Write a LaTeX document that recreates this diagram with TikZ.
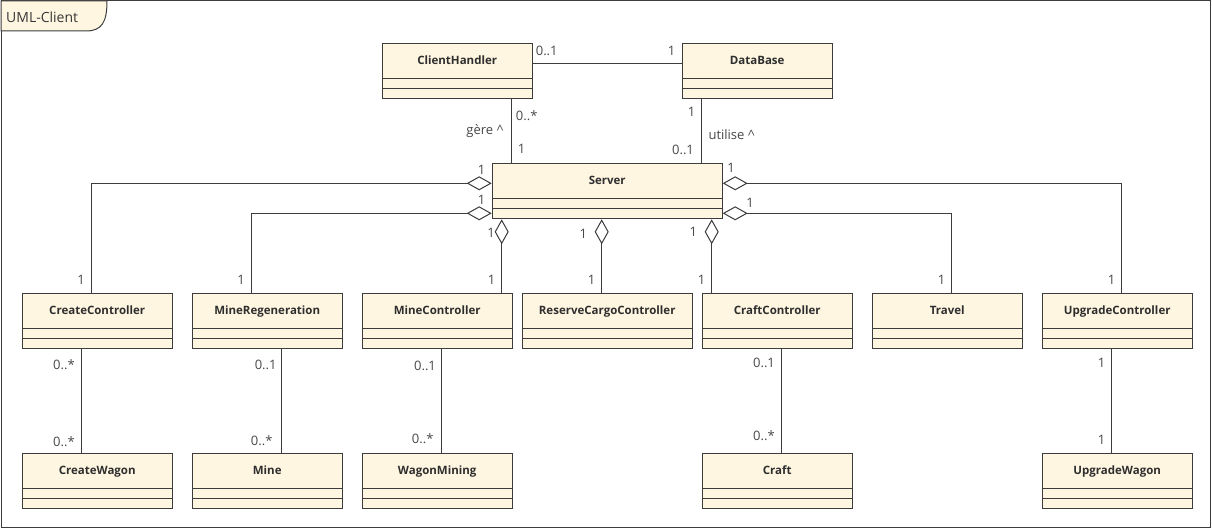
\documentclass[tikz,border=0pt]{standalone}
\usepackage{fontspec}
\setmainfont{Open Sans}
\usetikzlibrary{calc,arrows.meta}
\definecolor{umlfill}{RGB}{254,246,225}
\definecolor{umlline}{RGB}{60,60,60}
\tikzset{
	classbox/.style={draw=umlline, fill=umlfill, line width=1pt, anchor=north west, minimum height=55pt, inner sep=0pt},
	classname/.style={font=\fontsize{11.5}{13}\selectfont\bfseries, text=black!82, inner sep=0pt, anchor=base},
	mult/.style={font=\fontsize{13}{15}\selectfont, text=black!72, inner sep=0pt},
	assoc/.style={draw=umlline, line width=1pt},
	agg/.style={assoc, {Diamond[open, length=25pt, width=14pt, fill=white]}-},
}
\def\umlclass(#1)(#2,#3)(#4)#5{%
	\node[classbox, minimum width=#4pt] (#1) at (#2,#3) {};
	\node[classname] (#1-name) at ($(#1.north)+(0,21.5)$) {#5};
	\draw[umlline, line width=1pt] ($(#1.north west)+(0,35)$) -- ($(#1.north east)+(0,35)$);
	\draw[umlline, line width=1pt] ($(#1.north west)+(0,45)$) -- ($(#1.north east)+(0,45)$);
}
\begin{document}
\begin{tikzpicture}[x=1pt, y=-1pt]
			%%%%% FRAME %%%%%
			\useasboundingbox (0,0) rectangle (1212,529);
			\draw[umlline, line width=1pt] (1,1) rectangle (1210,527);
			\draw[umlline, line width=1pt, fill=umlfill] (1,1) -- (107,1) .. controls (107,22) and (102,31) .. (86,31) -- (1,31) -- cycle;
			\node[font=\fontsize{14}{16}\selectfont, text=black!78, anchor=west, inner sep=0pt] (title) at (6,17) {UML-Client};
			
			%%%%% CLASSES %%%%%
			\umlclass(ch)(381.7,43.3)(150){ClientHandler}
			\umlclass(db)(681.7,43.3)(150){DataBase}
			\umlclass(srv)(491.7,163.3)(230){Server}
			
			\umlclass(cc)(21.7,293.3)(150){CreateController}
			\umlclass(mr)(191.7,293.3)(150){MineRegeneration}
			\umlclass(mc)(361.7,293.3)(150){MineController}
			\umlclass(rcc)(521.7,293.3)(170){ReserveCargoController}
			\umlclass(crc)(701.7,293.3)(150){CraftController}
			\umlclass(tr)(871.7,293.3)(150){Travel}
			\umlclass(uc)(1041.7,293.3)(150){UpgradeController}
			
			\umlclass(cw)(21.7,453.3)(150){CreateWagon}
			\umlclass(mine)(191.7,453.3)(150){Mine}
			\umlclass(wm)(361.7,453.3)(150){WagonMining}
			\umlclass(craft)(701.7,453.3)(150){Craft}
			\umlclass(uw)(1041.7,453.3)(150){UpgradeWagon}
			
			%%%%% ASSOCIATIONS %%%%%
			\draw[assoc] ($(ch.north east)+(0,20)$) -- ($(db.north west)+(0,20)$);
			\draw[assoc] ($(ch.south west)+(130,0)$) coordinate (p1) -- (p1 |- srv.north);
			\draw[assoc] ($(db.south west)+(20,0)$) coordinate (p2) -- (p2 |- srv.north);
			
			\draw[agg] ($(srv.north west)+(0,20)$) -| ($(cc.north west)+(70,0)$);
			\draw[agg] ($(srv.north west)+(0,50)$) -| ($(mr.north west)+(60,0)$);
			\draw[agg] ($(srv.south west)+(10,0)$) coordinate (p3) -- (p3 |- mc.north);
			\draw[agg] ($(srv.south west)+(110,0)$) coordinate (p4) -- (p4 |- rcc.north);
			\draw[agg] ($(srv.south west)+(220,0)$) coordinate (p5) -- (p5 |- crc.north);
			\draw[agg] ($(srv.north east)+(0,20)$) -| ($(uc.north west)+(80,0)$);
			\draw[agg] ($(srv.north east)+(0,50)$) -| ($(tr.north west)+(80,0)$);
			
			\draw[assoc] ($(cc.south west)+(60,0)$) coordinate (p6) -- (p6 |- cw.north);
			\draw[assoc] ($(mr.south west)+(90,0)$) coordinate (p7) -- (p7 |- mine.north);
			\draw[assoc] ($(mc.south west)+(80,0)$) coordinate (p8) -- (p8 |- wm.north);
			\draw[assoc] ($(crc.south west)+(80,0)$) coordinate (p9) -- (p9 |- craft.north);
			\draw[assoc] ($(uc.south west)+(70,0)$) coordinate (p10) -- (p10 |- uw.north);
			
			%%%%% MULTIPLICITIES %%%%%
			\node[mult] (m-chdb) at (546.7,50.7) {0..1};
			\node[mult] (m-dbch) at (671.7,51) {1};
			\node[mult] (m-chsrv) at (526.7,116) {0..*};
			\node[mult] (gere) at (485,131) {gère \textasciicircum};
			\node[mult] (m-srvch) at (521.7,149) {1};
			\node[mult] (m-dbsrv) at (691.7,112) {1};
			\node[mult] (utilise) at (731.7,135) {utilise \textasciicircum};
			\node[mult] (m-srvdb) at (683,149.5) {0..1};
			
			\node[mult] (m-srvcc) at (481.7,170) {1};
			\node[mult] (m-srvmr) at (481.7,200) {1};
			\node[mult] (m-srvuc) at (731,168) {1};
			\node[mult] (m-srvtr) at (750,203) {1};
			\node[mult] (m-srvmc) at (491,232.7) {1};
			\node[mult] (m-srvrcc) at (583.3,234) {1};
			\node[mult] (m-srvcrc) at (693.3,232) {1};
			
			\node[mult] (m-cc) at (81,280) {1};
			\node[mult] (m-mr) at (241,280) {1};
			\node[mult] (m-mc) at (491.7,280) {1};
			\node[mult] (m-rcc) at (591.7,280) {1};
			\node[mult] (m-crc) at (701.7,280) {1};
			\node[mult] (m-tr) at (941.7,280) {1};
			\node[mult] (m-uc) at (1111.7,280) {1};
			
			\node[mult] (m-cccw) at (64,365) {0..*};
			\node[mult] (m-cwcc) at (64,441.7) {0..*};
			\node[mult] (m-mrmine) at (265.7,365) {0..1};
			\node[mult] (m-minemr) at (261.7,441) {0..*};
			\node[mult] (m-mcwm) at (425,366) {0..1};
			\node[mult] (m-wmmc) at (422.7,439) {0..*};
			\node[mult] (m-crccraft) at (764,362.7) {0..1};
			\node[mult] (m-craftcrc) at (764,435.7) {0..*};
			\node[mult] (m-ucuw) at (1101.7,362.7) {1};
			\node[mult] (m-uwuc) at (1101.7,440) {1};
\end{tikzpicture}
\end{document}
